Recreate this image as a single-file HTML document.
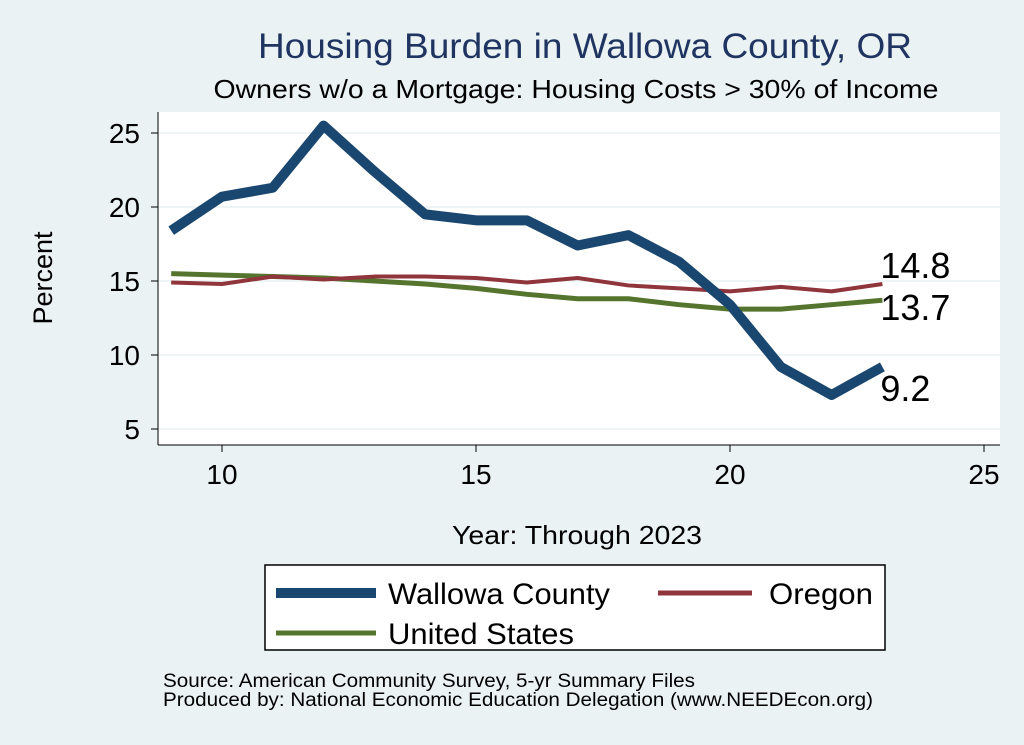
<!DOCTYPE html>
<html><head><meta charset="utf-8"><style>
body{margin:0;background:#eaf2f3;}
svg{display:block;font-family:"Liberation Sans",sans-serif;}
</style></head><body>
<svg id="c" width="1024" height="745">
<rect x="0" y="0" width="1024" height="745" fill="#eaf2f3"/>
<text x="585" y="58" font-size="35" fill="#1f3461" text-anchor="middle" textLength="654" lengthAdjust="spacingAndGlyphs">Housing Burden in Wallowa County, OR</text>
<text x="576" y="98" font-size="26" fill="#000" text-anchor="middle" textLength="725" lengthAdjust="spacingAndGlyphs">Owners w/o a Mortgage: Housing Costs &gt; 30% of Income</text>
<rect x="158" y="112" width="842" height="333" fill="#fff"/>
<g id="grid"></g><g id="axes"></g><g id="series"></g>
<text x="52" y="278" font-size="27" text-anchor="middle" transform="rotate(-90 52 278)">Percent</text>
<text x="577" y="544" font-size="26" text-anchor="middle" textLength="250" lengthAdjust="spacingAndGlyphs">Year: Through 2023</text>
<g>
<rect x="265" y="565" width="620" height="85" fill="#fff" stroke="#000" stroke-width="1.5"/>
<line x1="276" y1="593" x2="376" y2="593" stroke="#1a476f" stroke-width="10"/>
<text x="388" y="604" font-size="30" textLength="222" lengthAdjust="spacingAndGlyphs">Wallowa County</text>
<line x1="658" y1="593" x2="752" y2="593" stroke="#90353b" stroke-width="5"/>
<text x="873" y="604" font-size="30" text-anchor="end" textLength="104" lengthAdjust="spacingAndGlyphs">Oregon</text>
<line x1="276" y1="633" x2="376" y2="633" stroke="#55752f" stroke-width="5"/>
<text x="388" y="644" font-size="30" textLength="186" lengthAdjust="spacingAndGlyphs">United States</text>
</g>
<text x="163" y="687" font-size="19" textLength="532" lengthAdjust="spacingAndGlyphs">Source: American Community Survey, 5-yr Summary Files</text>
<text x="163" y="706" font-size="19" textLength="710" lengthAdjust="spacingAndGlyphs">Produced by: National Economic Education Delegation (www.NEEDEcon.org)</text>
</svg>
<script>
const years=[9,10,11,12,13,14,15,16,17,18,19,20,21,22,23];
const wallowa=[18.4,20.7,21.3,25.5,22.4,19.5,19.1,19.1,17.4,18.1,16.3,13.4,9.2,7.3,9.2];
const oregon=[14.9,14.8,15.3,15.1,15.3,15.3,15.2,14.9,15.2,14.7,14.5,14.3,14.6,14.3,14.8];
const us=[15.5,15.4,15.3,15.2,15.0,14.8,14.5,14.1,13.8,13.8,13.4,13.1,13.1,13.4,13.7];
const xTicks=[10,15,20,25];
const yTicks=[5,10,15,20,25];
const X=v=>222+(v-10)*50.8;
const Y=v=>429-(v-5)*14.8;
const NS="http://www.w3.org/2000/svg";
function mk(p,t,a){const e=document.createElementNS(NS,t);for(const k in a)e.setAttribute(k,a[k]);document.getElementById(p).appendChild(e);return e;}
yTicks.forEach(t=>{
 const g=mk('grid','line',{x1:158,x2:1000,y1:Y(t),y2:Y(t),stroke:'#eaf2f3','stroke-width':1.5});
 
 
 const tk=mk('axes','line',{x1:151,x2:158,y1:Y(t),y2:Y(t),stroke:'#000','stroke-width':1});
 
 
 const l=mk('axes','text',{x:140,y:Y(t)+10,'font-size':28,'text-anchor':'end'});l.textContent=t;
 
 
});
xTicks.forEach(t=>{
 const tk=mk('axes','line',{x1:X(t),x2:X(t),y1:445,y2:452,stroke:'#000','stroke-width':1});
 
 
 const l=mk('axes','text',{x:X(t),y:484,'font-size':28,'text-anchor':'middle'});l.textContent=t;
 
 
});
const ax1=mk('axes','line',{x1:158,x2:158,y1:112,y2:445,stroke:'#000','stroke-width':1});


const ax2=mk('axes','line',{x1:158,x2:1000,y1:445,y2:445,stroke:'#000','stroke-width':1});


function line(vals,color,w,name){
 const p=mk('series','polyline',{points:years.map((y,i)=>X(y)+','+Y(vals[i])).join(' '),fill:'none',stroke:color,'stroke-width':w,'stroke-linejoin':'round'});
 
 
}
line(us,'#55752f',5,'line-united-states');
line(oregon,'#90353b',4,'line-oregon');
line(wallowa,'#1a476f',10,'line-wallowa');
const last=years.length-1;
[[oregon,-6,'label-oregon-last'],[us,20,'label-us-last'],[wallowa,34,'label-wallowa-last']].forEach(([s,dy,n])=>{
 const t=mk('series','text',{x:X(years[last])-2,y:Y(s[last])+dy,'font-size':36});t.textContent=s[last].toFixed(1);
 
 
});
</script>
</body></html>
